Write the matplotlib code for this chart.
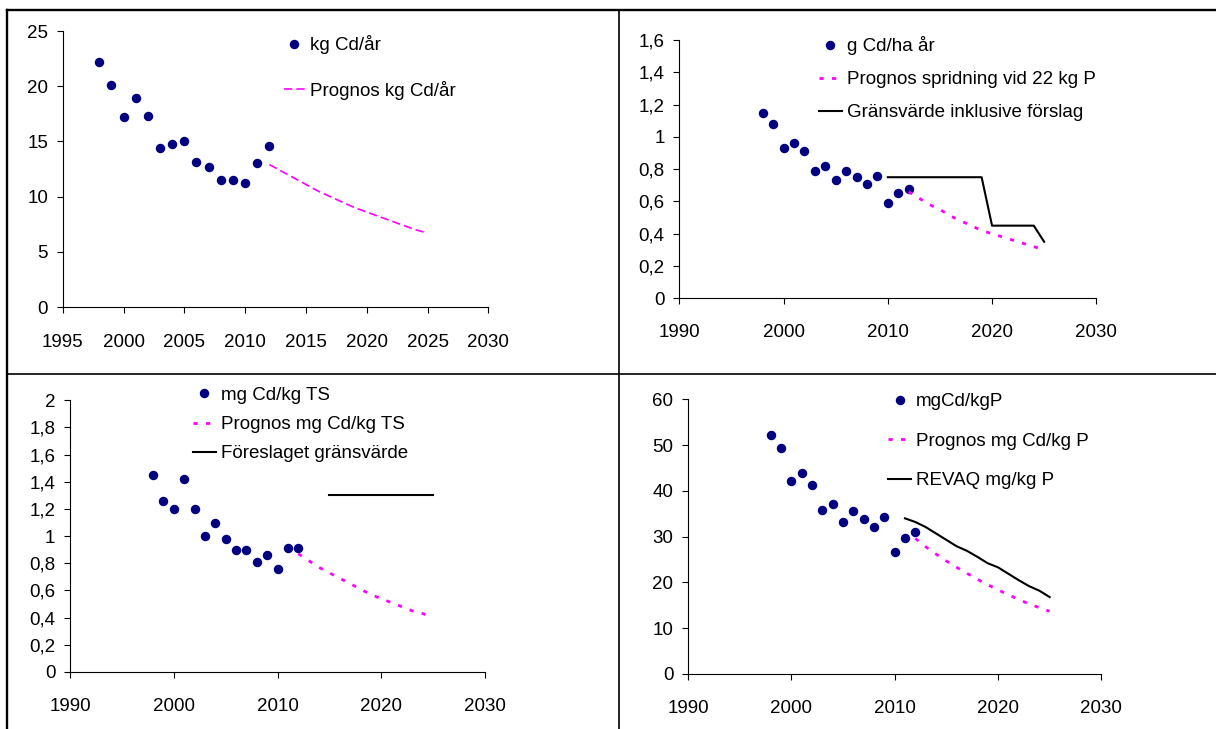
import matplotlib
matplotlib.use("Agg")
import matplotlib.pyplot as plt
from matplotlib.lines import Line2D
from matplotlib.ticker import FuncFormatter, MultipleLocator

plt.rcParams["font.family"] = ["Liberation Sans", "DejaVu Sans"]

# ── Data ──────────────────────────────────────────────────────────────────────
years_obs = list(range(1998, 2013))
years_prog = list(range(2012, 2026))

kg_cd_ar = [22.2, 20.1, 17.2, 18.9, 17.3, 14.4, 14.8, 15.0, 13.1, 12.7,
            11.5, 11.5, 11.2, 13.0, 14.6]
prog_kg_cd_ar = [12.9, 12.3, 11.7, 11.1, 10.5, 10.0, 9.5, 9.0, 8.6, 8.2,
                 7.8, 7.4, 7.0, 6.7]

g_cd_ha = [1.15, 1.08, 0.93, 0.96, 0.91, 0.79, 0.82, 0.73, 0.79, 0.75,
           0.71, 0.76, 0.59, 0.65, 0.68]
prog_g_cd_ha = [0.66, 0.62, 0.58, 0.55, 0.51, 0.48, 0.45, 0.42, 0.40, 0.38,
                0.36, 0.34, 0.32, 0.30]
years_grans = list(range(2010, 2026))
grans_g_cd_ha = [0.75, 0.75, 0.75, 0.75, 0.75, 0.75, 0.75, 0.75, 0.75, 0.75,
                 0.45, 0.45, 0.45, 0.45, 0.45, 0.35]

mg_cd_ts = [1.45, 1.26, 1.20, 1.42, 1.20, 1.00, 1.10, 0.98, 0.90, 0.90,
            0.81, 0.86, 0.76, 0.91, 0.91]
prog_mg_cd_ts = [0.87, 0.82, 0.77, 0.73, 0.69, 0.65, 0.61, 0.57, 0.54, 0.51,
                 0.48, 0.45, 0.43, 0.40]
years_forsl = list(range(2015, 2026))
forsl_ts = [1.3] * len(years_forsl)

mg_cd_kgp = [52.2, 49.3, 42.2, 43.8, 41.3, 35.8, 37.1, 33.3, 35.7, 33.9,
             32.1, 34.4, 26.7, 29.8, 31.0]
prog_mg_cd_kgp = [29.6, 27.8, 26.2, 24.7, 23.3, 22.0, 20.7, 19.5, 18.4, 17.3,
                  16.3, 15.3, 14.5, 13.7]
years_revaq = list(range(2011, 2026))
revaq_kgp = [34.0, 33.2, 32.1, 30.7, 29.3, 27.9, 26.9, 25.6, 24.2, 23.3,
             21.9, 20.5, 19.2, 18.2, 16.8]

NAVY = "#000080"
PINK = "#ff00ff"
FS = 13.5

W, H = 1216, 729
fig = plt.figure(figsize=(W / 100, H / 100), dpi=100)


def px_axes(x0, y0, x1, y1):
    """Axes from pixel box (top-left origin)."""
    return fig.add_axes([x0 / W, 1 - y1 / H, (x1 - x0) / W, (y1 - y0) / H])


def comma(v, _):
    return f"{v:g}".replace(".", ",")


def style(ax, xlim, xstep, ylim, ystep, xpad):
    ax.set_xlim(*xlim)
    ax.set_ylim(*ylim)
    ax.xaxis.set_major_locator(MultipleLocator(xstep))
    ax.yaxis.set_major_locator(MultipleLocator(ystep))
    ax.yaxis.set_major_formatter(FuncFormatter(comma))
    for s in ("top", "right"):
        ax.spines[s].set_visible(False)
    for s in ("left", "bottom"):
        ax.spines[s].set_linewidth(0.8)
    ax.tick_params(axis="both", direction="out", length=4.5, width=0.8,
                   labelsize=FS)
    ax.tick_params(axis="x", pad=xpad)
    ax.tick_params(axis="y", pad=6)


def legend(ax, x, y, spacing, hl):
    ax.legend(loc="upper left", bbox_to_anchor=(x / W, 1 - y / H),
              bbox_transform=fig.transFigure, frameon=False, fontsize=FS,
              borderpad=0, borderaxespad=0, handlelength=hl,
              handletextpad=0.25, labelspacing=spacing, numpoints=1)


dot = dict(linestyle="none", marker="o", markersize=5.8, color=NAVY)

# ── Panel 1: kg Cd/år ─────────────────────────────────────────────────────────
ax1 = px_axes(62.7, 31, 488.3, 307)
ax1.plot(years_obs, kg_cd_ar, label="kg Cd/år", **dot)
ax1.plot(years_prog, prog_kg_cd_ar, color=PINK, linewidth=1.2,
         dashes=(5, 2.4), label="Prognos kg Cd/år")
style(ax1, (1995, 2030), 5, (0, 25), 5, 15)
legend(ax1, 283.7, 35.5, 1.41, 1.15)

# ── Panel 2: g Cd/ha år ───────────────────────────────────────────────────────
ax2 = px_axes(679.3, 40, 1096.3, 298.3)
ax2.plot(years_obs, g_cd_ha, label="g Cd/ha år", **dot)
ax2.plot(years_prog, prog_g_cd_ha, color=PINK, linewidth=2.0,
         dashes=(1.5, 3), label="Prognos spridning vid 22 kg P")
ax2.plot(years_grans, grans_g_cd_ha, color="black", linewidth=1.5,
         label="Gränsvärde inklusive förslag")
style(ax2, (1990, 2030), 10, (0, 1.6), 0.2, 14)
legend(ax2, 818.7, 36.3, 0.85, 1.25)

# ── Panel 3: mg Cd/kg TS ──────────────────────────────────────────────────────
ax3 = px_axes(70, 400.3, 485, 672)
ax3.plot(years_obs, mg_cd_ts, label="mg Cd/kg TS", **dot)
ax3.plot(years_prog, prog_mg_cd_ts, color=PINK, linewidth=2.0,
         dashes=(1.5, 3), label="Prognos mg Cd/kg TS")
ax3.plot(years_forsl, forsl_ts, color="black", linewidth=1.5,
         label="Föreslaget gränsvärde")
style(ax3, (1990, 2030), 10, (0, 2), 0.2, 14)
legend(ax3, 192.7, 386.7, 0.65, 1.25)

# ── Panel 4: mgCd/kgP ─────────────────────────────────────────────────────────
ax4 = px_axes(688, 399.3, 1101.3, 674)
ax4.plot(years_obs, mg_cd_kgp, label="mgCd/kgP", **dot)
ax4.plot(years_prog, prog_mg_cd_kgp, color=PINK, linewidth=2.0,
         dashes=(1.5, 3), label="Prognos mg Cd/kg P")
ax4.plot(years_revaq, revaq_kgp, color="black", linewidth=1.5,
         label="REVAQ mg/kg P")
style(ax4, (1990, 2030), 10, (0, 60), 10, 14)
legend(ax4, 888, 393.3, 1.19, 1.25)

# ── Table frame lines ─────────────────────────────────────────────────────────
frame = [
    ((7, W), (10, 10), 1.7),
    ((7, 7), (10, H), 1.7),
    ((618.5, 618.5), (10, H), 1.2),
    ((7, W), (374, 374), 1.2),
]
for xs, ys, lw in frame:
    fig.add_artist(Line2D([x / W for x in xs], [1 - y / H for y in ys],
                          color="black", linewidth=lw,
                          transform=fig.transFigure))

plt.savefig("out.png", dpi=100, facecolor="white")
plt.close()
